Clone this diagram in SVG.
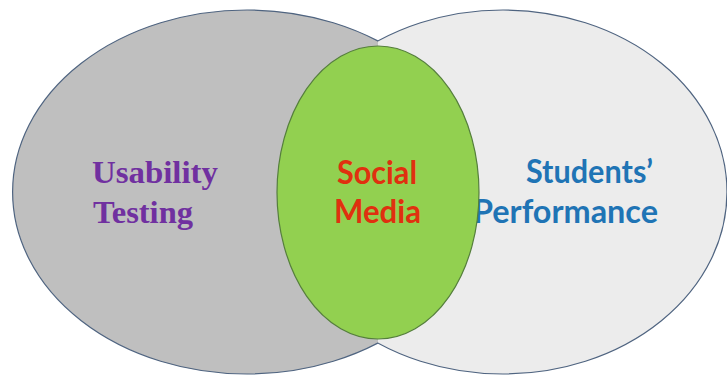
<svg xmlns="http://www.w3.org/2000/svg" width="727" height="375" viewBox="0 0 727 375">
<style>
.edge{stroke:#4f6480;stroke-width:1.2}
.serif{font-family:"Liberation Serif","Times New Roman",serif;font-weight:bold}
.sans{font-family:Lato,"Open Sans","Liberation Sans",sans-serif;font-weight:bold}
</style>
<defs>
<clipPath id="leftHalf"><rect x="0" y="0" width="378" height="375"/></clipPath>
<clipPath id="rightHalf"><rect x="378" y="0" width="349" height="375"/></clipPath>
</defs>
<rect width="727" height="375" fill="#ffffff"/>
<g id="usability-testing">
<ellipse cx="247" cy="192" rx="234.4" ry="182" fill="#bfbfbf" class="edge" clip-path="url(#leftHalf)"/>
<text class="serif" fill="#7030a0" font-size="32" x="92" y="183" textLength="126" lengthAdjust="spacingAndGlyphs">Usability</text>
<text class="serif" fill="#7030a0" font-size="32" x="93" y="223" textLength="100" lengthAdjust="spacingAndGlyphs">Testing</text>
</g>
<g id="students-performance">
<ellipse cx="503" cy="192" rx="224" ry="182" fill="#ececec" class="edge" clip-path="url(#rightHalf)"/>
<text class="sans" fill="#1f74b5" font-size="32" x="526" y="183" textLength="127" lengthAdjust="spacingAndGlyphs">Students’</text>
<text class="sans" fill="#1f74b5" font-size="32" x="473" y="223" textLength="185" lengthAdjust="spacingAndGlyphs">Performance</text>
</g>
<g id="social-media">
<ellipse cx="378" cy="192.5" rx="101" ry="146.5" fill="#92d050" stroke="#557f3c" stroke-width="1.2"/>
<text class="sans" fill="#e0300f" font-size="32" x="337" y="184" textLength="80" lengthAdjust="spacingAndGlyphs">Social</text>
<text class="sans" fill="#e0300f" font-size="32" x="334" y="223" textLength="87" lengthAdjust="spacingAndGlyphs">Media</text>
</g>
<g id="connectors"></g>
</svg>
